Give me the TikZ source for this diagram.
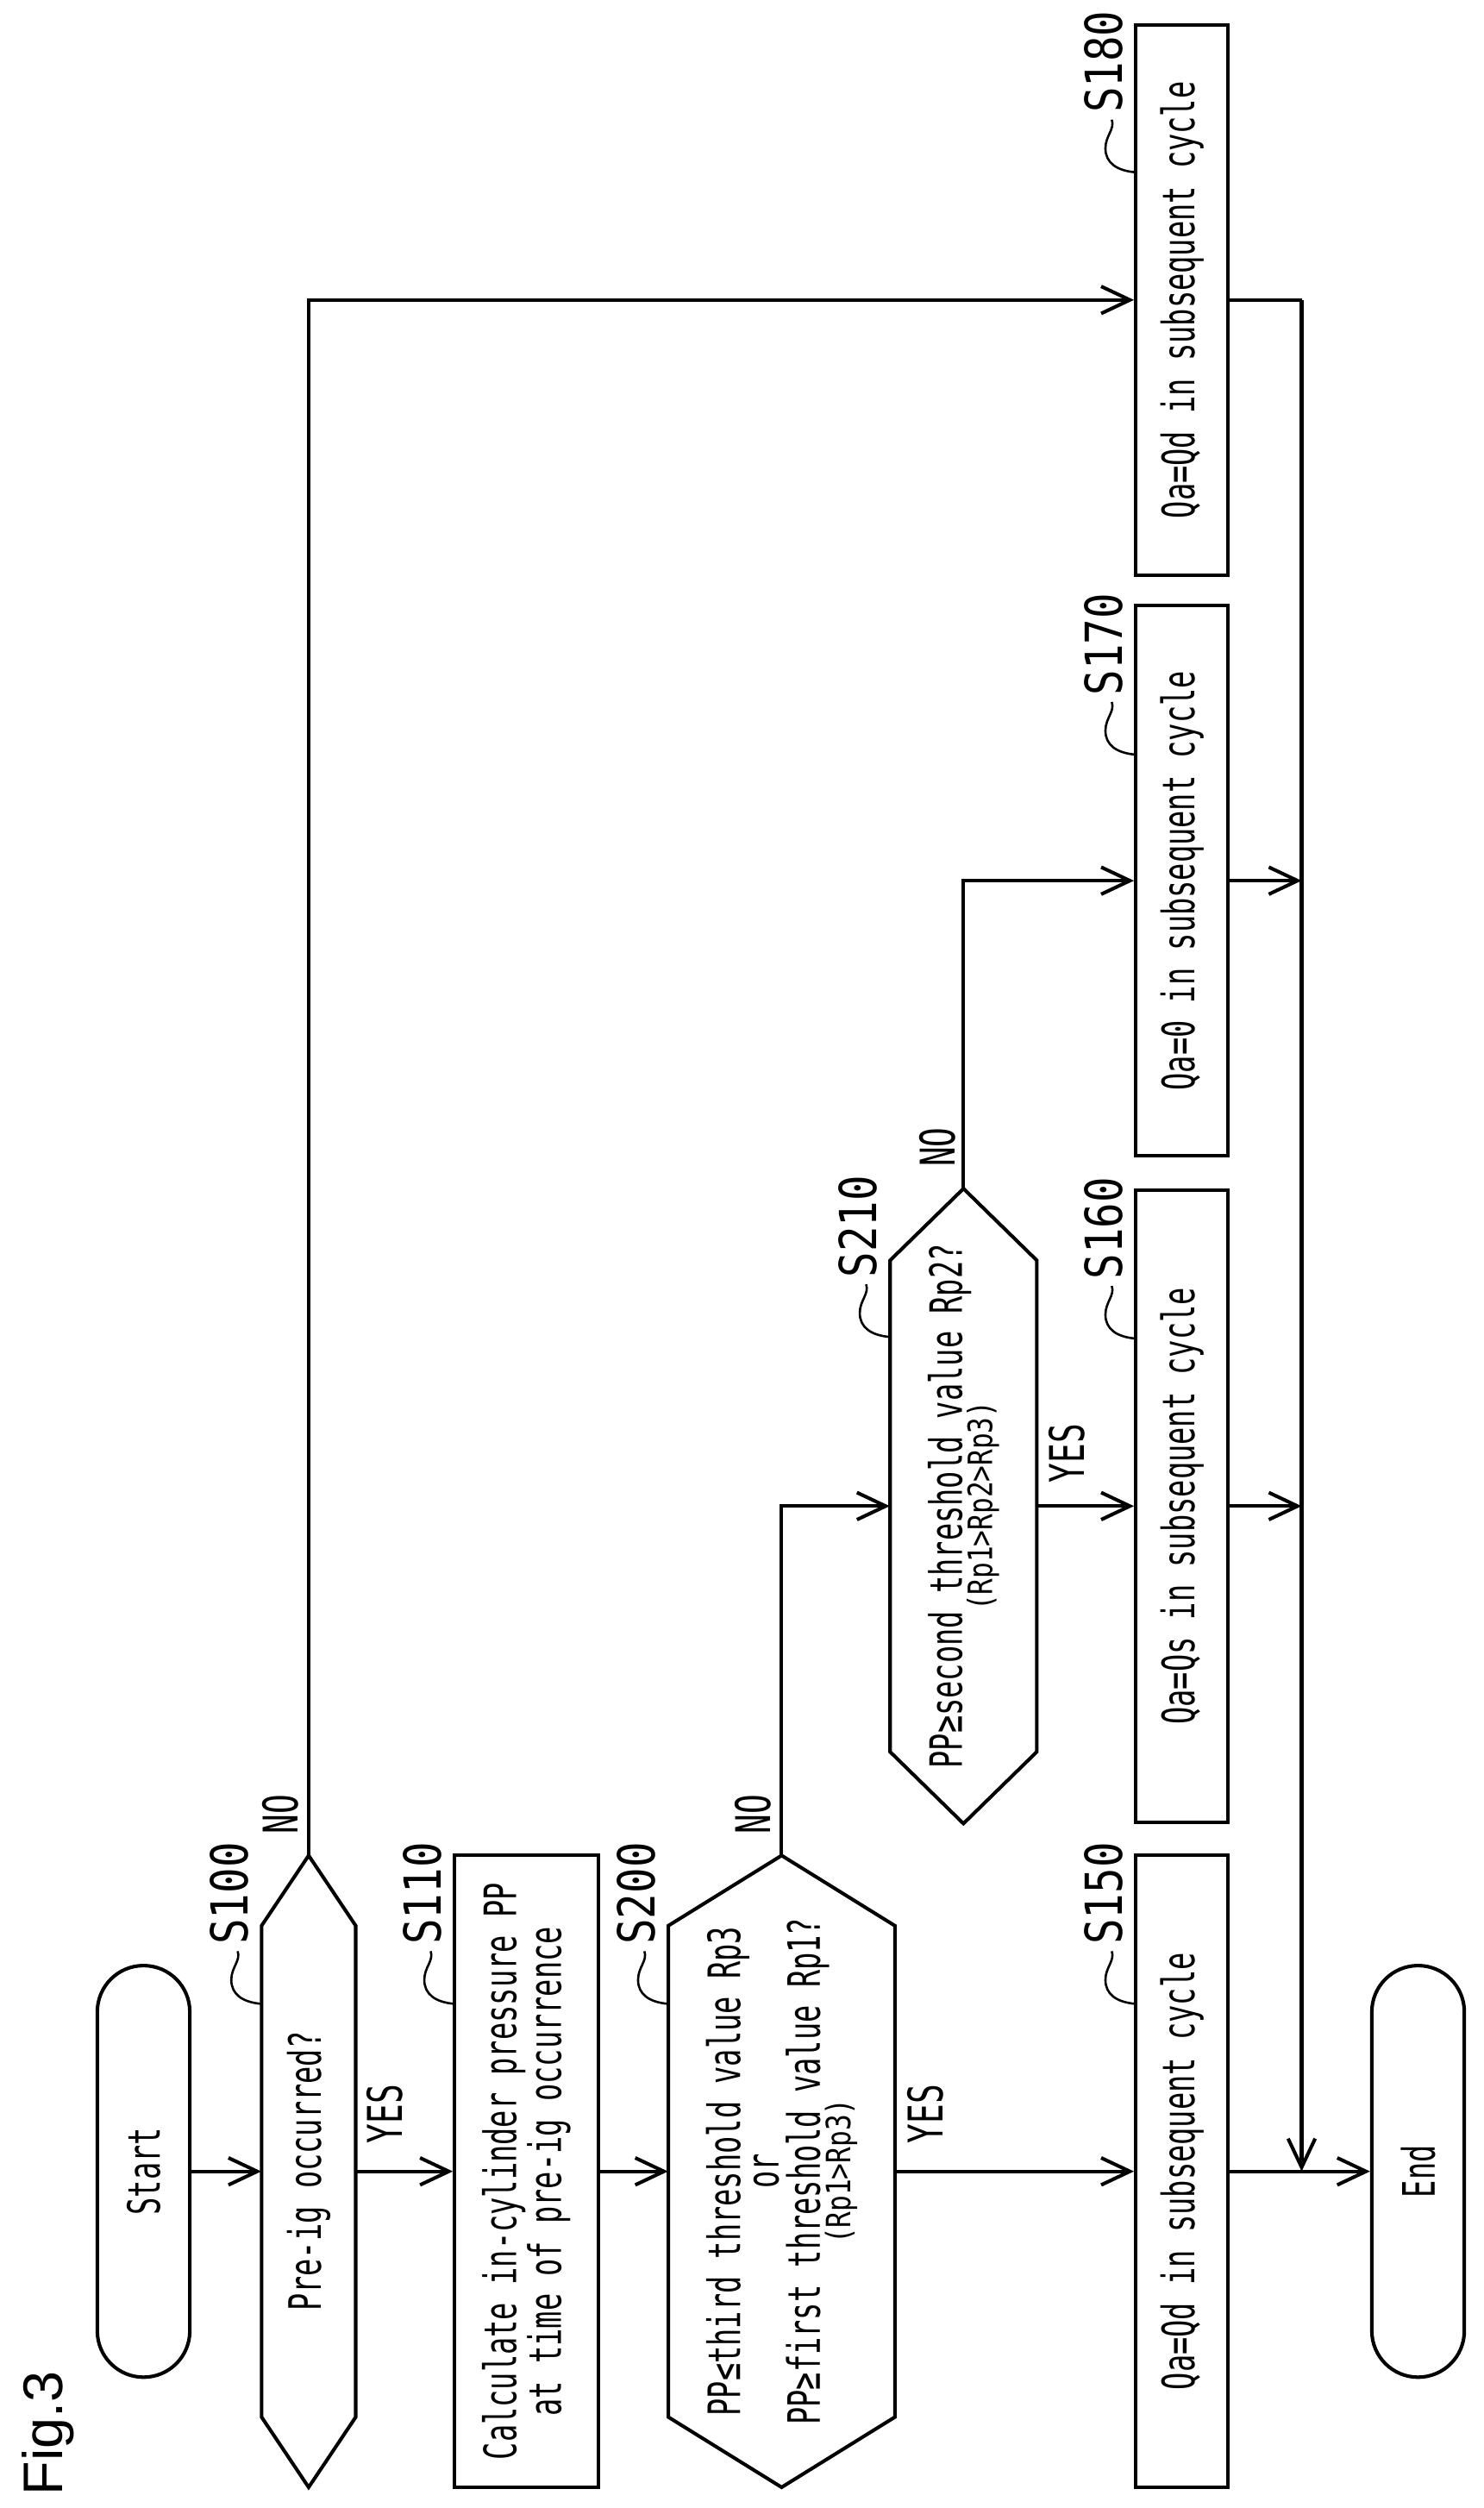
\documentclass[tikz,border=0pt]{standalone}
\usepackage{fontspec}
\usetikzlibrary{arrows.meta}
\newfontfamily\condA[FakeStretch=0.65]{DejaVu Sans Mono}
\newfontfamily\condB[FakeStretch=0.83]{DejaVu Sans Mono}
\newfontfamily\condC[FakeStretch=0.68]{DejaVu Sans Mono}
\newfontfamily\condD[FakeStretch=0.8]{DejaVu Sans Mono}
\newfontfamily\figf{Liberation Sans}
\newcommand\mainf{\condA\fontsize{28pt}{26pt}\selectfont}
\newcommand\labf{\condB\fontsize{32pt}{32pt}\selectfont}
\newcommand\ynf{\condC\fontsize{30pt}{30pt}\selectfont}
\newcommand\smallf{\condD\fontsize{21pt}{21pt}\selectfont}
\begin{document}
\begin{tikzpicture}[x=1pt,y=-1pt,
  lw/.style={line width=2.2pt},
  arr/.style={lw,-{Straight Barb[length=18pt,width=17pt,line width=2.2pt]}},
  box/.style={draw,lw,rotate=90,inner sep=0pt,font=\mainf,align=center},
  term/.style={box,rounded corners=29pt,minimum height=58pt,minimum width=258pt},
  hexn/.style={rotate=90,inner sep=0pt,font=\mainf,align=center},
  lab/.style={rotate=90,inner sep=0pt,anchor=west,font=\labf},
  yn/.style={rotate=90,inner sep=0pt,font=\ynf}]
\fill[white] (0,0) rectangle (930.3,1572);
\useasboundingbox (0,0) rectangle (930.3,1572);

% Fig label
\node[rotate=90,font=\figf\fontsize{35pt}{35pt}\selectfont,inner sep=0pt] (fig) at (30,1525) {Fig.3};

% terminals
\node[term] (Start) at (90,1361) {Start};
\node[term] (End) at (889,1361) {End};

% hexagons (outlines)
\draw[lw] (193.5,1163)--(223,1207)--(223,1515)--(193.5,1559)--(164,1515)--(164,1207)--cycle;
\node[hexn,minimum width=396pt,minimum height=59pt] (S100) at (193.5,1361) {Pre-ig occurred?};
\draw[lw] (490,1163)--(561,1207)--(561,1515)--(490,1559)--(419,1515)--(419,1207)--cycle;
\node[hexn,minimum width=396pt,minimum height=142pt] (S200) at (490,1361)
  {PP≤third threshold value Rp3\\[-2pt]or\\PP≥first threshold value Rp1?\\[-7pt]{\smallf (Rp1>Rp3)}};
\draw[lw] (604,745)--(650,790)--(650,1098)--(604,1143)--(558,1098)--(558,790)--cycle;
\node[hexn,minimum width=398pt,minimum height=92pt] (S210) at (604,944)
  {PP≥second threshold value Rp2?\\[-7pt]{\smallf (Rp1>Rp2>Rp3)}};

% rectangles
\node[box,minimum width=396pt,minimum height=90pt] (S110) at (330,1361)
  {Calculate in-cylinder pressure PP\\at time of pre-ig occurrence};
\node[box,minimum width=396pt,minimum height=58pt] (S150) at (741,1361) {Qa=Qd in subsequent cycle};
\node[box,minimum width=396pt,minimum height=58pt] (S160) at (741,944) {Qa=Qs in subsequent cycle};
\node[box,minimum width=345pt,minimum height=58pt] (S170) at (741,552) {Qa=0 in subsequent cycle};
\node[box,minimum width=345pt,minimum height=58pt] (S180) at (741,188) {Qa=Qd in subsequent cycle};

% step labels with leaders
\newcommand\stepleader[3]{% edge x, box top y, name
  \draw[line width=1.4pt] (#1,#2+93) .. controls (#1-12,#2+92) and (#1-19,#2+87) .. (#1-19,#2+78)
     .. controls (#1-19,#2+70) and (#1-13,#2+66) .. (#1-15,#2+60);
  \node[lab] (L#3) at (#1-20,#2+56) {S#3};}
\stepleader{164}{1163}{100}
\stepleader{285}{1163}{110}
\stepleader{419}{1163}{200}
\stepleader{558}{745}{210}
\stepleader{712}{1163}{150}
\stepleader{712}{746}{160}
\stepleader{712}{380}{170}
\stepleader{712}{15}{180}

% connectors
\coordinate (Rtop) at (816,188);
\coordinate (J) at (816,1361);
\draw[arr] (Start.south) -- (S100.north);
\draw[arr] (S100.south) -- (S110.north);
\draw[arr] (S110.south) -- (S200.north);
\draw[arr] (S200.south) -- (S150.north);
\draw[arr] (S150.south) -- (End.north);
\draw[arr] (S100.east) |- (S180.north);
\draw[arr] (S200.east) |- (S210.north);
\draw[arr] (S210.south) -- (S160.north);
\draw[arr] (S210.east) |- (S170.north);
\draw[lw] (S180.south) -- (Rtop);
\draw[arr] (Rtop) -- (J);
\draw[arr] (S170.south) -- (S170.south -| J);
\draw[arr] (S160.south) -- (S160.south -| J);

% yes/no labels
\node[yn] (y1) at (241,1325) {YES};
\node[yn] (y2) at (580,1325) {YES};
\node[yn] (y3) at (669,911) {YES};
\node[yn] (n1) at (176,1137) {NO};
\node[yn] (n2) at (472,1137) {NO};
\node[yn] (n3) at (588,719) {NO};
\end{tikzpicture}
\end{document}
